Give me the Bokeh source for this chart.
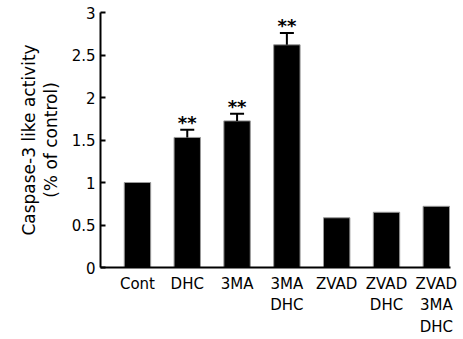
from bokeh.plotting import figure
from bokeh.models import ColumnDataSource, Range1d, FixedTicker, Whisker, TeeHead
from bokeh.core.properties import value
from bokeh.embed import file_html
from bokeh.resources import INLINE

# ---- data ----
categories = ["Cont", "DHC", "3MA", "3MA\nDHC", "ZVAD", "ZVAD\nDHC", "ZVAD\n3MA\nDHC"]
activity = [1.0, 1.53, 1.725, 2.62, 0.585, 0.65, 0.72]
errors = [0.0, 0.09, 0.085, 0.14, 0.0, 0.0, 0.0]
significance = ["", "**", "**", "**", "", "", ""]
y_ticks = [0, 0.5, 1, 1.5, 2, 2.5, 3]
y_tick_labels = ["0", "0.5", "1", "1.5", "2", "2.5", "3"]

idx = list(range(len(categories)))
src = ColumnDataSource(dict(x=idx, top=activity))

err_idx = [i for i in idx if errors[i] > 0]
err_src = ColumnDataSource(dict(
    x=err_idx,
    lower=[activity[i] for i in err_idx],
    upper=[activity[i] + errors[i] for i in err_idx],
    label=[significance[i] for i in err_idx],
))

FONT = "DejaVu Sans"

p = figure(width=463, height=339, output_backend="svg", toolbar_location=None,
           x_range=Range1d(-0.742, 6.285), y_range=Range1d(0, 3),
           min_border_left=100, min_border_right=13, min_border_top=12, min_border_bottom=72)
p.background_fill_color = "white"
p.border_fill_color = "white"
p.outline_line_color = None
p.grid.grid_line_color = None

p.vbar(x="x", top="top", bottom=0, width=0.53, source=src,
       fill_color="black", line_color="#999999", line_width=1)

wh = Whisker(source=err_src, base="x", lower="lower", upper="upper",
             dimension="height", line_color="black", line_width=2,
             upper_head=TeeHead(size=14, line_width=2, line_color="black"),
             lower_head=None, level="overlay")
p.add_layout(wh)

p.text(x="x", y="upper", text="label", source=err_src,
       text_align="center", text_baseline="alphabetic", y_offset=-7,
       text_font=value(FONT), text_font_size="18px", text_font_style="bold",
       text_color="black")

# y axis
ya = p.yaxis[0]
ya.ticker = FixedTicker(ticks=y_ticks)
ya.major_label_overrides = {t: l for t, l in zip(y_ticks, y_tick_labels)}
ya.minor_tick_line_color = None
ya.major_tick_in = 5
ya.major_tick_out = 0
ya.major_tick_line_width = 2
ya.axis_line_width = 2
ya.axis_line_color = "black"
ya.major_label_text_font = FONT
ya.major_label_text_font_size = "15px"
ya.major_label_text_color = "black"
ya.major_label_standoff = 5
ya.axis_label = "Caspase-3 like activity\n(% of control)"
ya.axis_label_text_font = FONT
ya.axis_label_text_font_size = "17px"
ya.axis_label_text_font_style = "normal"
ya.axis_label_text_color = "black"
ya.axis_label_text_line_height = 1.1
ya.axis_label_standoff = 8

# x axis
xa = p.xaxis[0]
xa.ticker = FixedTicker(ticks=idx)
xa.major_label_overrides = {i: c for i, c in zip(idx, categories)}
xa.minor_tick_line_color = None
xa.major_tick_in = 0
xa.major_tick_out = 0
xa.axis_line_width = 2
xa.axis_line_color = "black"
xa.major_label_text_font = FONT
xa.major_label_text_font_size = "15px"
xa.major_label_text_color = "black"
xa.major_label_text_line_height = 1.2
xa.major_label_standoff = 7

open("out.html", "w").write(file_html(p, INLINE))
